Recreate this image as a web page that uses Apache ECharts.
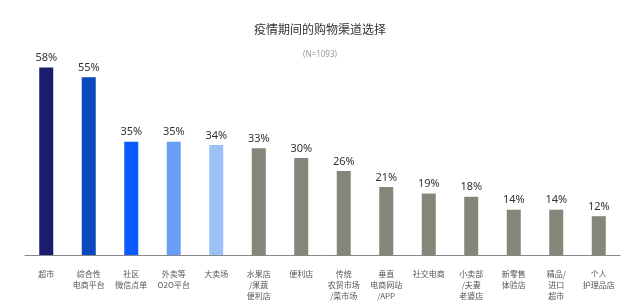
<!DOCTYPE html>
<html>
<head>
<meta charset="utf-8">
<script src="https://cdn.jsdelivr.net/npm/echarts@6/dist/echarts.min.js"></script>
<style>
  html, body { margin: 0; padding: 0; background: #fff; }
  #chart { width: 640px; height: 307px; }
</style>
</head>
<body>
<div id="chart"></div>
<script>
var categories = ['超市', '综合性\n电商平台', '社区\n微信点单', '外卖等\nO2O平台', '大卖场', '水果店\n/果蔬\n便利店', '便利店', '传统\n农贸市场\n/菜市场', '垂直\n电商网站\n/APP', '社交电商', '小卖部\n/夫妻\n老婆店', '新零售\n体验店', '精品/\n进口\n超市', '个人\n护理品店'];
var values = [58, 55, 35, 35, 34, 33, 30, 26, 21, 19, 18, 14, 14, 12];
var barColors = ['#1b1c6b', '#0b49bd', '#0a5bff', '#6a9ef6', '#9dc0f9', '#85857a', '#85857a', '#85857a', '#85857a', '#85857a', '#85857a', '#85857a', '#85857a', '#85857a'];

var chart = echarts.init(document.getElementById('chart'));
var option = {
    title: [{
        text: '疫情期间的购物渠道选择',
        left: 'center',
        top: 18,
        textStyle: { fontSize: 12, fontWeight: 'normal', color: '#333', fontFamily: 'Noto Sans CJK SC' }
    }, {
        text: '(N=1093)',
        left: 'center',
        top: 46,
        textStyle: { fontSize: 8, fontWeight: 'normal', color: '#999', fontFamily: 'Noto Sans' }
    }],
    grid: { left: 25, right: 20, top: 61, bottom: 52 },
    xAxis: {
        type: 'category',
        data: categories,
        axisLine: { lineStyle: { color: '#888' } },
        axisTick: { show: false },
        axisLabel: {
            interval: 0,
            fontSize: 8,
            lineHeight: 11,
            color: '#555',
            margin: 13,
            fontFamily: 'Noto Sans CJK SC'
        }
    },
    yAxis: {
        type: 'value',
        min: 0,
        max: 60,
        show: false
    },
    series: [{
        type: 'bar',
        barWidth: 14,
        data: values.map(function (v, i) {
            return { value: v, itemStyle: { color: barColors[i] } };
        }),
        label: {
            show: true,
            position: 'top',
            distance: 4,
            formatter: '{c}%',
            fontSize: 11,
            color: '#333',
            fontFamily: 'Noto Sans'
        }
    }]
};
chart.setOption(option);
</script>
</body>
</html>
